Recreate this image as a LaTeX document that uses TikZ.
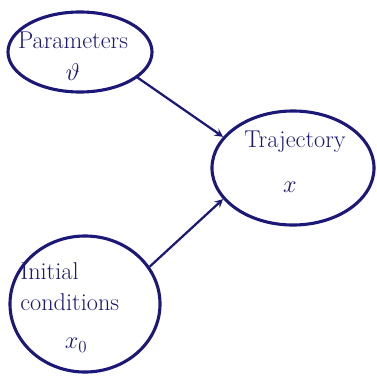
\documentclass[tikz,border=0pt]{standalone}
\usepackage{amsmath}
\usepackage{amssymb}
\usetikzlibrary{shapes.geometric}
\definecolor{inkblue}{HTML}{1B1878}
\tikzset{
  blob/.style={draw=inkblue, ellipse, line width=2.2pt, inner sep=0pt},
  hand/.style={text=inkblue, font=\LARGE, inner sep=0pt, align=center},
  link/.style={->, >=stealth, draw=inkblue, line width=1.6pt},
}
\begin{document}
\begin{tikzpicture}[x=0.025cm, y=-0.025cm]
    \useasboundingbox (0,0) rectangle (376,382);
    \node[blob, minimum width=3.6cm, minimum height=2.0cm] (params) at (80,52) {};
    \node[blob, minimum width=4.05cm, minimum height=2.85cm] (traj) at (293,168) {};
    \node[blob, minimum width=3.75cm, minimum height=3.4cm] (init) at (85,304) {};
    \node[hand] (paramsname) at (73,40) {Parameters};
    \node[hand] (paramssym) at (73,72) {$\vartheta$};
    \node[hand] (trajname) at (295,142) {Trajectory};
    \node[hand] (trajsym) at (290,187) {$x$};
    \node[hand, align=left, anchor=west] (initname) at (20,287) {Initial\\conditions};
    \node[hand] (initsym) at (76,345) {$x_0$};
    \draw[link] (params.-24) -- (traj.156);
    \draw[link] (init.30) -- (traj.204);
  \end{tikzpicture}
\end{document}
